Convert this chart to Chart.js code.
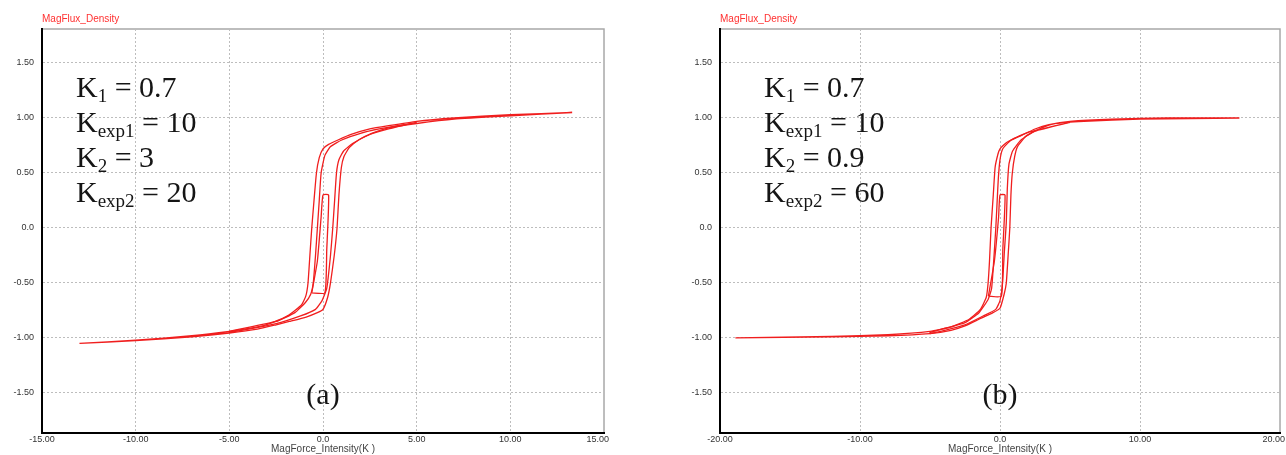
<!DOCTYPE html>
<html>
<head>
<meta charset="utf-8">
<script src="https://cdn.jsdelivr.net/npm/chart.js@4.4.1/dist/chart.umd.min.js"></script>
<style>
  body { margin: 0; overflow: hidden; background: #fff; }
  canvas { position: absolute; top: 0; }
</style>
</head>
<body>
<canvas id="chartA" width="640" height="455" style="left:0"></canvas>
<canvas id="chartB" width="646" height="455" style="left:640px"></canvas>
<script>
// panel (a) - outer loop
const aOuterDownH = [13.3, 10, 7, 5, 3.5, 2.5, 1.5, 0.8, 0.3, 0, -0.2, -0.35, -0.48, -0.6, -0.7, -0.8, -0.92, -1.15, -1.8, -2.7, -3.5, -5, -7, -10, -13];
const aOuterDownB = [1.05, 1.03, 1.0, 0.97, 0.93, 0.9, 0.85, 0.8, 0.76, 0.72, 0.64, 0.5, 0.25, 0, -0.25, -0.5, -0.62, -0.7, -0.79, -0.86, -0.9, -0.94, -0.98, -1.02, -1.05];
const aOuterUpH = [-13, -10, -7, -5, -3.5, -2.5, -1.8, -0.9, -0.3, 0, 0.25, 0.4, 0.6, 0.75, 0.85, 0.98, 1.12, 1.4, 1.9, 2.6, 3.5, 5, 7, 10, 13.3];
const aOuterUpB = [-1.05, -1.025, -0.99, -0.955, -0.92, -0.88, -0.85, -0.81, -0.77, -0.74, -0.63, -0.5, -0.25, 0, 0.3, 0.55, 0.65, 0.73, 0.8, 0.86, 0.91, 0.95, 0.99, 1.02, 1.05];
// panel (a) - inner loop
const aInnerDownH = [5, 3, 2, 1, 0.4, 0.1, -0.1, -0.2, -0.3, -0.4, -0.52, -0.65, -0.95, -1.5, -2.5, -5];
const aInnerDownB = [0.96, 0.9, 0.86, 0.8, 0.74, 0.66, 0.5, 0.25, 0, -0.25, -0.5, -0.6, -0.68, -0.77, -0.85, -0.94];
const aInnerUpH = [-5, -2.5, -1.2, -0.4, -0.05, 0.2, 0.4, 0.52, 0.62, 0.72, 0.85, 1.1, 1.6, 2.5, 3.5, 5];
const aInnerUpB = [-0.95, -0.87, -0.8, -0.74, -0.66, -0.55, -0.25, 0, 0.25, 0.5, 0.62, 0.7, 0.77, 0.85, 0.9, 0.96];
// panel (a) - minor loop
const aMinorH = [-0.6, 0.1, 0.2, 0.3, 0, -0.1, -0.3, -0.6];
const aMinorB = [-0.59, -0.59, -0.2, 0.3, 0.3, 0.1, -0.3, -0.59];

// panel (b) - outer loop
const bOuterDownH = [17.1, 12, 8, 5, 3.5, 2.5, 1.5, 0.5, 0, -0.15, -0.35, -0.48, -0.64, -0.75, -0.85, -0.98, -1.4, -2.2, -3.5, -5, -8, -12, -18.9];
const bOuterDownB = [1.0, 1.0, 0.99, 0.97, 0.94, 0.9, 0.84, 0.78, 0.72, 0.67, 0.55, 0.3, 0, -0.3, -0.5, -0.63, -0.74, -0.83, -0.9, -0.94, -0.97, -0.985, -1.0];
const bOuterUpH = [-18.9, -12, -8, -5, -3.5, -2.5, -1.5, -0.5, 0, 0.3, 0.45, 0.58, 0.7, 0.78, 0.88, 1.05, 1.25, 1.9, 2.8, 4, 6, 10, 17.1];
const bOuterUpB = [-1.0, -0.99, -0.98, -0.96, -0.93, -0.89, -0.83, -0.77, -0.73, -0.6, -0.5, -0.25, 0, 0.3, 0.5, 0.65, 0.74, 0.84, 0.9, 0.95, 0.97, 0.99, 1.0];
// panel (b) - inner loop
const bInnerDownH = [5, 2, 0.8, 0.2, 0, -0.12, -0.22, -0.3, -0.45, -0.6, -0.85, -1.5, -2.5, -5];
const bInnerDownB = [0.96, 0.87, 0.8, 0.72, 0.62, 0.45, 0.2, 0, -0.3, -0.55, -0.65, -0.77, -0.86, -0.95];
const bInnerUpH = [-5, -2.5, -1.2, -0.3, 0, 0.18, 0.32, 0.45, 0.52, 0.64, 0.9, 1.5, 2.5, 5];
const bInnerUpB = [-0.96, -0.88, -0.8, -0.74, -0.66, -0.5, -0.2, 0.05, 0.35, 0.58, 0.7, 0.8, 0.88, 0.96];
// panel (b) - minor loop
const bMinorH = [-0.83, 0.1, 0.2, 0.36, 0, -0.1, -0.4, -0.83];
const bMinorB = [-0.62, -0.62, -0.2, 0.3, 0.3, 0.1, -0.3, -0.62];

// ticks
const yTickVals = [-1.5, -1, -0.5, 0, 0.5, 1, 1.5];
const yTickLabels = ['-1.50', '-1.00', '-0.50', '0.0', '0.50', '1.00', '1.50'];
const xTickValsA = [-15, -10, -5, 0, 5, 10, 15];
const xTickLabelsA = ['-15.00', '-10.00', '-5.00', '0.0', '5.00', '10.00', '15.00'];
const xTickValsB = [-20, -10, 0, 10, 20];
const xTickLabelsB = ['-20.00', '-10.00', '0.0', '10.00', '20.00'];

// parameter text
const paramsA = [['1', '0.7'], ['exp1', '10'], ['2', '3'], ['exp2', '20']];
const paramsB = [['1', '0.7'], ['exp1', '10'], ['2', '0.9'], ['exp2', '60']];

function pts(h, b) {
    return h.map((x, i) => ({ x: x, y: b[i] }));
}

const RED = 'rgb(240,30,30)';

const panelText = {
    id: 'panelText',
    beforeDraw(chart) {
        const ctx = chart.ctx;
        const a = chart.chartArea;
        ctx.save();
        ctx.strokeStyle = '#a8a8a8';
        ctx.lineWidth = 1.5;
        ctx.strokeRect(a.left, a.top, a.right - a.left, a.bottom - a.top);
        ctx.restore();
    },
    afterDraw(chart, args, opts) {
        const ctx = chart.ctx;
        const a = chart.chartArea;
        ctx.save();
        // y title
        ctx.fillStyle = '#ff3030';
        ctx.font = '10px "Liberation Sans", Arial';
        ctx.textAlign = 'left';
        ctx.fillText('MagFlux_Density', a.left, 22);
        // x title
        ctx.fillStyle = '#444';
        ctx.textAlign = 'center';
        ctx.fillText('MagForce_Intensity(K )', chart.scales.x.getPixelForValue(0), 452);
        // parameters
        ctx.fillStyle = '#151515';
        ctx.textAlign = 'left';
        opts.params.forEach((p, i) => {
            let x = opts.textX;
            const y = 97 + i * 35;
            ctx.font = '30px "Liberation Serif", serif';
            ctx.fillText('K', x, y);
            x += ctx.measureText('K').width;
            ctx.font = '19px "Liberation Serif", serif';
            ctx.fillText(p[0], x, y + 5);
            x += ctx.measureText(p[0]).width;
            ctx.font = '30px "Liberation Serif", serif';
            ctx.fillText(' = ' + p[1], x, y);
        });
        // panel label
        ctx.textAlign = 'center';
        ctx.fillText(opts.label, chart.scales.x.getPixelForValue(0), 404);
        ctx.restore();
    }
};

function makeChart(id, loops, xVals, xLabels, xMin, xMax, axisW, padRight, params, textX, label) {
    const datasets = loops.map(l => ({
        data: l,
        showLine: true,
        borderColor: RED,
        borderWidth: 1.3,
        pointRadius: 0,
        tension: 0.15,
        fill: false
    }));
    return new Chart(document.getElementById(id), {
        type: 'scatter',
        data: { datasets: datasets },
        options: {
            responsive: false,
            animation: false,
            devicePixelRatio: 1,
            layout: { padding: { top: 29, right: padRight, left: 0, bottom: 0 } },
            plugins: {
                legend: { display: false },
                tooltip: { enabled: false },
                panelText: { params: params, textX: textX, label: label }
            },
            scales: {
                x: {
                    type: 'linear',
                    min: xMin,
                    max: xMax,
                    afterBuildTicks: s => { s.ticks = xVals.map(v => ({ value: v })); },
                    afterFit: s => { s.height = 22; s.paddingRight = 0; },
                    ticks: {
                        padding: 1,
                        color: '#333',
                        font: { family: '"Liberation Sans", Arial', size: 9 },
                        maxRotation: 0,
                        autoSkip: false,
                        callback: (v, i) => {
                            const t = xLabels[xVals.indexOf(v)];
                            return i === xVals.length - 1 ? t + '     ' : t;
                        }
                    },
                    grid: { color: '#bdbdbd', lineWidth: 1, drawTicks: false },
                    border: { color: '#000', width: 2, dash: [2, 2] }
                },
                y: {
                    type: 'linear',
                    min: -1.864,
                    max: 1.809,
                    afterBuildTicks: s => { s.ticks = yTickVals.map(v => ({ value: v })); },
                    afterFit: s => { s.width = axisW; },
                    ticks: {
                        padding: 8,
                        color: '#333',
                        font: { family: '"Liberation Sans", Arial', size: 9 },
                        autoSkip: false,
                        callback: v => yTickLabels[yTickVals.indexOf(v)]
                    },
                    grid: { color: '#bdbdbd', lineWidth: 1, drawTicks: false },
                    border: { color: '#000', width: 2, dash: [2, 2] }
                }
            }
        },
        plugins: [panelText]
    });
}

makeChart('chartA', [
    pts(aOuterDownH, aOuterDownB).concat(pts(aOuterUpH, aOuterUpB)),
    pts(aInnerDownH, aInnerDownB).concat(pts(aInnerUpH, aInnerUpB)),
    pts(aMinorH, aMinorB)
], xTickValsA, xTickLabelsA, -15, 15, 42, 36, paramsA, 76, '(a)');

makeChart('chartB', [
    pts(bOuterDownH, bOuterDownB).concat(pts(bOuterUpH, bOuterUpB)),
    pts(bInnerDownH, bInnerDownB).concat(pts(bInnerUpH, bInnerUpB)),
    pts(bMinorH, bMinorB)
], xTickValsB, xTickLabelsB, -20, 20, 80, 6, paramsB, 124, '(b)');
</script>
</body>
</html>
